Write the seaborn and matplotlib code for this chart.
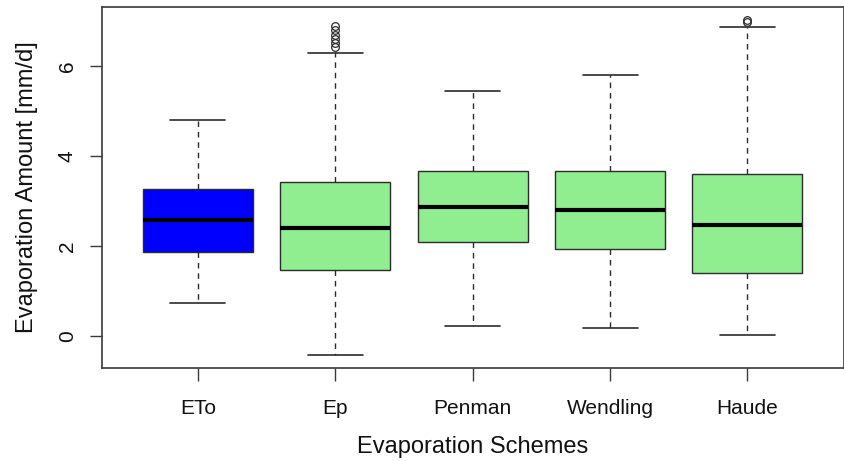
import matplotlib
matplotlib.use("Agg")
import matplotlib.pyplot as plt
import seaborn as sns
import pandas as pd

# Evaporation schemes and their box statistics [mm/d]
schemes = ["ETo", "Ep", "Penman", "Wendling", "Haude"]
whisker_low = [0.73, -0.42, 0.23, 0.17, 0.03]
q1 = [1.87, 1.47, 2.08, 1.93, 1.41]
median = [2.58, 2.41, 2.87, 2.81, 2.46]
q3 = [3.26, 3.43, 3.67, 3.67, 3.61]
whisker_high = [4.79, 6.30, 5.44, 5.80, 6.86]
outliers = [[], [6.43, 6.51, 6.59, 6.69, 6.79, 6.90], [], [], [6.97, 7.03]]
box_colors = ["#0000FF", "#90EE90", "#90EE90", "#90EE90", "#90EE90"]


def summary_sample(lo, a, m, b, hi, extra):
    """Small sample whose quartiles and whiskers reproduce the given summary."""
    k = 1 + len(extra)
    return [lo] + [a] * k + [m] * k + [b] * k + [hi] + list(extra)


rows = []
for i, name in enumerate(schemes):
    for v in summary_sample(whisker_low[i], q1[i], median[i], q3[i],
                            whisker_high[i], outliers[i]):
        rows.append({"scheme": name, "value": v})
df = pd.DataFrame(rows)

sns.set_theme(style="white")
plt.rcParams["font.family"] = ["Liberation Sans", "DejaVu Sans"]

fig = plt.figure(figsize=(8.45, 4.61), dpi=100)
ax = fig.add_axes([0.1204, 0.2024, 0.8779, 0.7818])

edge = "#2b2b2b"
sns.boxplot(
    data=df, x="scheme", y="value", hue="scheme", order=schemes,
    hue_order=schemes, palette=box_colors, saturation=1, width=0.8,
    legend=False, ax=ax, linecolor=edge, linewidth=1.0,
    whis=1.5,
    boxprops=dict(edgecolor=edge, linewidth=1.0),
    whiskerprops=dict(color=edge, linestyle=(0, (4, 3.5)), linewidth=1.0),
    capprops=dict(color=edge, linewidth=1.2),
    medianprops=dict(color="black", linewidth=3.0),
    flierprops=dict(marker="o", markerfacecolor="none",
                    markeredgecolor=edge, markersize=5.5,
                    markeredgewidth=0.9),
)

ax.set_xlim(-0.7, 4.7)
ax.set_ylim(-0.705, 7.305)
ax.set_yticks([0, 2, 4, 6])
ax.set_yticklabels(["0", "2", "4", "6"])

for side in ["left", "right", "top", "bottom"]:
    ax.spines[side].set_visible(True)
    ax.spines[side].set_color("#3a3a3a")
    ax.spines[side].set_linewidth(1.2)

ax.tick_params(axis="both", which="major", direction="out", length=9,
               width=1.0, color="#3a3a3a", labelsize=15, labelcolor="#111111",
               bottom=True, left=True)
ax.tick_params(axis="x", pad=13.5)
ax.tick_params(axis="y", pad=9)
for t in ax.get_yticklabels():
    t.set_rotation(90)
    t.set_va("center")

ax.set_xlabel("Evaporation Schemes", fontsize=17, color="#111111")
ax.set_ylabel("Evaporation Amount [mm/d]", fontsize=17, color="#111111")
ax.xaxis.set_label_coords(0.5, -0.1887)
ax.yaxis.set_label_coords(-0.0859, 0.5)

fig.savefig("out.png", dpi=100, facecolor="white")
